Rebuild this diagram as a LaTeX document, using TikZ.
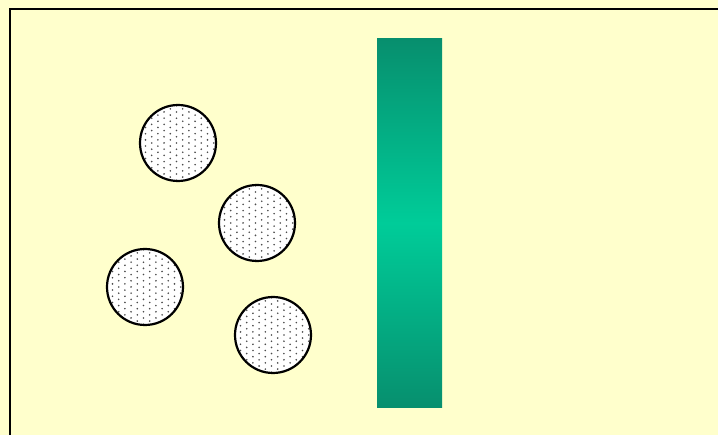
\documentclass[tikz,border=0pt]{standalone}
\begin{document}
\begin{tikzpicture}[x=1pt,y=-1pt]
\definecolor{bg}{HTML}{FFFFCC}
\definecolor{bardark}{HTML}{078F6E}
\definecolor{barlight}{HTML}{00CC99}
\tikzset{ball/.style={draw=black,line width=2.2pt},dotc/.style={fill=black!70}}
\fill[bg] (0,0) rectangle (718,435);
\useasboundingbox (0,0) rectangle (718,435);
\draw[line width=2.2pt] (10,445) -- (10,9) -- (728,9);
\shade[top color=bardark,bottom color=bardark,middle color=barlight] (377,39) rectangle (442,408);
\foreach \cx/\cy/\r/\nm in {178/143/38/b1,257/223/38/b2,145/287/38/b3,273/335/38/b4}{
  \begin{scope}
    \clip (\cx,\cy) circle (\r);
    \fill[white] (\cx,\cy) circle (\r);
    \foreach \i in {-7,...,7}{
      \foreach \j in {-7,...,7}{
        \fill[dotc] ({\cx+\i*6.2-1.5},{\cy+\j*6.2+mod(abs(\i),2)*3.1}) circle (0.9);
      }
    }
  \end{scope}
  \node[ball,circle,minimum size={2*\r},inner sep=0pt] (\nm) at (\cx,\cy) {};
}
\end{tikzpicture}
\end{document}
